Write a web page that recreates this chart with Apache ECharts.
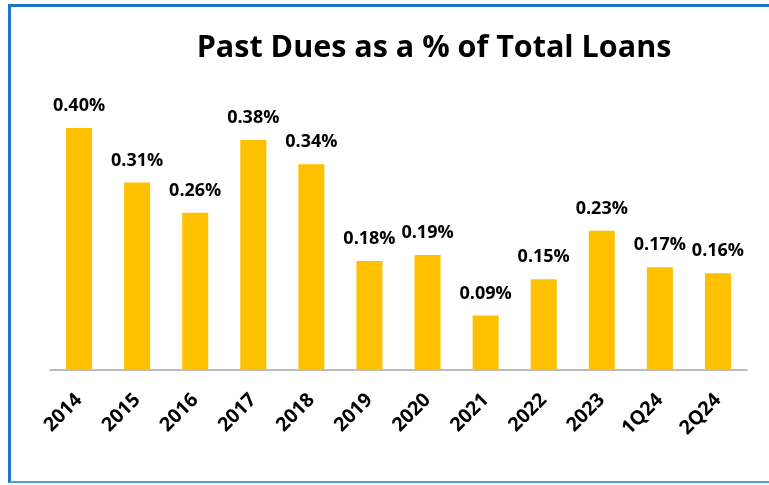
<!DOCTYPE html>
<html>
<head>
<meta charset="utf-8">
<script src="https://cdn.jsdelivr.net/npm/echarts@6/dist/echarts.min.js"></script>
<style>
  html, body { margin: 0; padding: 0; background: #fff; }
  #frame { position: absolute; left: 8px; top: 4px; width: 761px; height: 479px;
           border-left: 3px solid #1a75c8; border-top: 3px solid #1a75c8;
           border-bottom: 2px solid #5b9bd5; box-sizing: border-box; }
  #chart { position: absolute; left: 0; top: 0; width: 769px; height: 485px; }
</style>
</head>
<body>
<div id="frame"></div>
<div id="chart"></div>
<script>
// Past-due ratios by period (percent of total loans)
const periods = ['2014', '2015', '2016', '2017', '2018', '2019', '2020', '2021', '2022', '2023', '1Q24', '2Q24'];
const pastDuePct = [0.40, 0.31, 0.26, 0.38, 0.34, 0.18, 0.19, 0.09, 0.15, 0.23, 0.17, 0.16];

const chart = echarts.init(document.getElementById('chart'), null, { renderer: 'canvas' });
const FONT = '"Open Sans", "DejaVu Sans", sans-serif';

chart.setOption({
  animation: false,
  title: {
    text: 'Past Dues as a % of Total Loans',
    left: 429, top: 28, textAlign: 'center',
    textStyle: { fontFamily: FONT, fontWeight: 'bold', fontSize: 30.5, color: '#000' }
  },
  grid: { left: 50, width: 697, top: 97.75, bottom: 115, containLabel: false },
  xAxis: {
    type: 'category',
    data: periods,
    axisLine: { lineStyle: { color: '#a6a6a6', width: 1.5 } },
    axisTick: { show: false },
    axisLabel: {
      rotate: 45, interval: 0, margin: 27,
      fontFamily: FONT, fontWeight: 'bold', fontSize: 19.5, color: '#000'
    }
  },
  yAxis: {
    type: 'value', min: 0, max: 0.45,
    show: false, splitLine: { show: false }
  },
  series: [{
    type: 'bar',
    data: pastDuePct,
    barWidth: 26,
    itemStyle: { color: '#ffc000' },
    label: {
      show: true, position: 'top', distance: 13,
      formatter: p => p.value.toFixed(2) + '%',
      fontFamily: FONT, fontWeight: 'bold', fontSize: 18, color: '#000'
    }
  }]
});
</script>
</body>
</html>
